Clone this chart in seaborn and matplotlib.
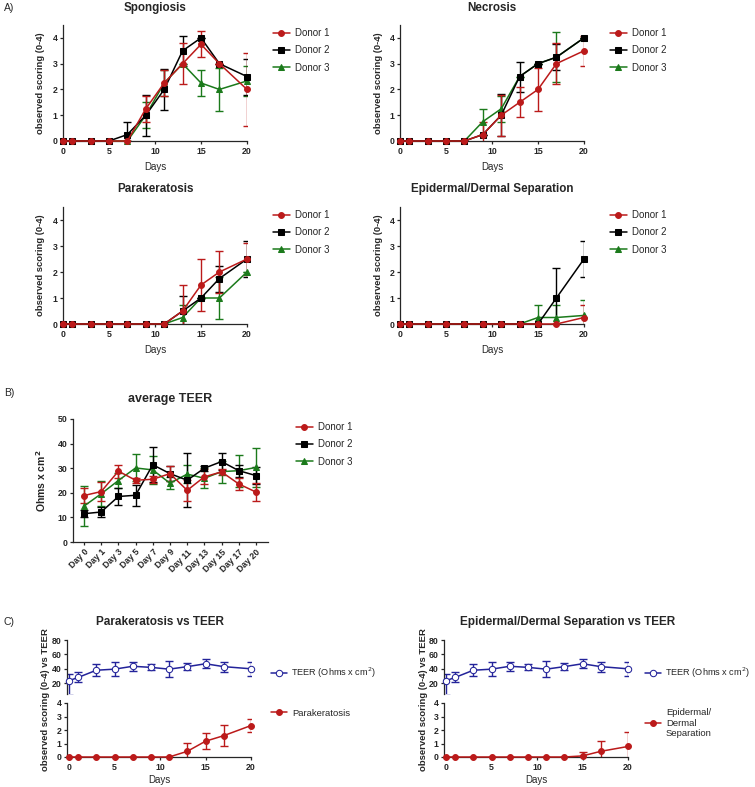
import numpy as np
import pandas as pd
import matplotlib
matplotlib.use("Agg")
import matplotlib.pyplot as plt
import seaborn as sns

days = [0, 1, 3, 5, 7, 9, 11, 13, 15, 17, 20]
day_labels = ["Day 0", "Day 1", "Day 3", "Day 5", "Day 7", "Day 9",
              "Day 11", "Day 13", "Day 15", "Day 17", "Day 20"]
donors = ["Donor 1", "Donor 2", "Donor 3"]

# Spongiosis
spong_mean = [[0, 0, 0, 0, 0, 1.25, 2.25, 3.0, 3.75, 3.0, 2.0],
              [0, 0, 0, 0, 0.25, 1.0, 2.0, 3.5, 4.0, 3.0, 2.5],
              [0, 0, 0, 0, 0, 1.0, 2.25, 3.0, 2.25, 2.0, 2.33]]
spong_sd = [[0, 0, 0, 0, 0, 0.5, 0.5, 0.8, 0.5, 0, 1.4],
            [0, 0, 0, 0, 0.5, 0.8, 0.8, 0.58, 0, 0, 0.7],
            [0, 0, 0, 0, 0, 0.5, 0.5, 0, 0.5, 0.82, 0.58]]

# Necrosis
necro_mean = [[0, 0, 0, 0, 0, 0.25, 1.0, 1.5, 2.0, 3.0, 3.5],
              [0, 0, 0, 0, 0, 0.25, 1.0, 2.5, 3.0, 3.25, 4.0],
              [0, 0, 0, 0, 0, 0.75, 1.25, 2.5, 3.0, 3.25, 4.0]]
necro_sd = [[0, 0, 0, 0, 0, 0.5, 0.8, 0.58, 0.82, 0.8, 0.58],
            [0, 0, 0, 0, 0, 0, 0.82, 0.58, 0, 0.5, 0],
            [0, 0, 0, 0, 0, 0.5, 0.5, 0, 0, 0.96, 0]]

# Parakeratosis
para_mean = [[0, 0, 0, 0, 0, 0, 0, 0.5, 1.5, 2.0, 2.5],
             [0, 0, 0, 0, 0, 0, 0, 0.5, 1.0, 1.75, 2.5],
             [0, 0, 0, 0, 0, 0, 0, 0.25, 1.0, 1.0, 2.0]]
para_sd = [[0, 0, 0, 0, 0, 0, 0, 1.0, 1.0, 0.82, 0.6],
           [0, 0, 0, 0, 0, 0, 0, 0.58, 0, 0.5, 0.7],
           [0, 0, 0, 0, 0, 0, 0, 0.5, 0, 0.82, 0]]

# Epidermal/Dermal Separation
sep_mean = [[0, 0, 0, 0, 0, 0, 0, 0, 0, 0, 0.25],
            [0, 0, 0, 0, 0, 0, 0, 0, 0, 1.0, 2.5],
            [0, 0, 0, 0, 0, 0, 0, 0, 0.25, 0.25, 0.33]]
sep_sd = [[0, 0, 0, 0, 0, 0, 0, 0, 0, 0, 0.5],
          [0, 0, 0, 0, 0, 0, 0, 0, 0, 1.15, 0.7],
          [0, 0, 0, 0, 0, 0, 0, 0, 0.5, 0.5, 0.58]]

# average TEER per donor (Ohms x cm2)
teer_mean = [[18.9, 20.5, 28.8, 25.1, 25.5, 27.8, 21.0, 26.5, 28.5, 23.6, 20.3],
             [11.5, 12.2, 18.5, 19.0, 31.4, 27.8, 25.1, 30.0, 32.7, 29.0, 27.0],
             [14.6, 19.6, 25.0, 30.1, 29.3, 23.9, 27.6, 25.9, 28.6, 29.0, 30.3]]
teer_sd = [[3.0, 3.8, 2.7, 1.0, 1.5, 3.0, 4.2, 3.0, 1.2, 2.3, 3.5],
           [1.5, 2.0, 3.3, 4.2, 7.2, 3.0, 11.0, 1.0, 3.5, 2.5, 3.5],
           [8.0, 5.0, 3.0, 5.5, 5.8, 2.5, 3.5, 4.0, 4.5, 6.5, 7.8]]

# TEER across donors and combined scores for panel C
teer_all = [23.5, 28.0, 38.0, 39.5, 43.5, 42.0, 39.5, 43.0, 47.0, 43.0, 40.0]
teer_all_lo = [20.0, 7.0, 8.0, 10.0, 6.0, 4.0, 11.0, 5.0, 6.0, 7.0, 10.0]
teer_all_hi = [9.5, 7.0, 8.0, 10.0, 6.0, 4.0, 11.0, 5.0, 6.0, 7.0, 10.0]
para_all = [0, 0, 0, 0, 0, 0, 0, 0.42, 1.17, 1.58, 2.33]
para_all_sd = [0, 0, 0, 0, 0, 0, 0, 0.65, 0.58, 0.8, 0.5]
sep_all = [0, 0, 0, 0, 0, 0, 0, 0, 0.08, 0.42, 0.78]
sep_all_sd = [0, 0, 0, 0, 0, 0, 0, 0, 0.3, 0.8, 1.1]

colors = ["#bb1a1a", "#000000", "#1b7a1b"]
markers = ["o", "s", "^"]
blue = "#23239a"

sns.set_theme(style="ticks")
plt.rcParams["font.family"] = ["Liberation Sans", "DejaVu Sans"]
plt.rcParams["axes.linewidth"] = 0.9
plt.rcParams["xtick.major.width"] = 0.9
plt.rcParams["ytick.major.width"] = 0.9
plt.rcParams["xtick.major.size"] = 2.5
plt.rcParams["ytick.major.size"] = 2.5
plt.rcParams["xtick.major.pad"] = 1.5
plt.rcParams["ytick.major.pad"] = 1.5

W, H = 755, 787
fig = plt.figure(figsize=(W / 100, H / 100), dpi=100)


def px(l, t, r, b):
    return [l / W, 1 - b / H, (r - l) / W, (b - t) / H]


def style_ticks(ax, size=6.3):
    for lab in ax.get_xticklabels() + ax.get_yticklabels():
        lab.set_fontweight("bold")
        lab.set_fontsize(size)


def draw_series(ax, x, y, err, color, marker, label, ms=4.2, mfc=None):
    ax.errorbar(x, y, yerr=err, fmt="none", ecolor=color, elinewidth=1.0,
                capsize=3.2, capthick=1.0, zorder=2)
    sns.lineplot(x=x, y=y, ax=ax, color=color, marker=marker, markersize=ms,
                 markeredgecolor=color, markerfacecolor=mfc if mfc else color,
                 linewidth=1.1, label=label, clip_on=False, zorder=3, sort=False)


def score_panel(rect, title, title_xy, means, sds, leg_xy, ylab_x):
    ax = fig.add_axes(px(*rect))
    for i in [2, 1, 0]:
        draw_series(ax, days, means[i], sds[i], colors[i], markers[i], donors[i])
    ax.set_xlim(0, 20)
    ax.set_ylim(0, 4.5)
    ax.set_xticks([0, 5, 10, 15, 20])
    ax.set_yticks([0, 1, 2, 3, 4])
    sns.despine(ax=ax)
    style_ticks(ax)
    ax.set_xlabel("Days", fontsize=7)
    ax.xaxis.set_label_coords(0.5, -0.18)
    ax.set_ylabel("observed scoring (0-4)", fontsize=6.8, fontweight="bold")
    ax.yaxis.set_label_coords(ylab_x, 0.5)
    h, l = ax.get_legend_handles_labels()
    order = [l.index(d) for d in donors]
    ax.legend([h[k] for k in order], donors, loc="upper left", frameon=False,
              bbox_to_anchor=(leg_xy[0] / W, 1 - leg_xy[1] / H),
              bbox_transform=fig.transFigure, fontsize=7, borderpad=0,
              borderaxespad=0, handlelength=1.7, labelspacing=0.75, handletextpad=0.6)
    fig.text(title_xy[0] / W, 1 - title_xy[1] / H, title, ha="center", va="center",
             fontsize=8.4, fontweight="bold")
    return ax


score_panel((63, 25, 247, 141), "Spongiosis", (155, 8), spong_mean, spong_sd, (273, 28), -0.098)
score_panel((400, 25, 584, 141), "Necrosis", (492, 8), necro_mean, necro_sd, (610, 28), -0.092)
score_panel((63, 207, 247, 324), "Parakeratosis", (155, 189), para_mean, para_sd, (273, 210), -0.098)
score_panel((400, 207, 584, 324), "Epidermal/Dermal Separation", (492, 189), sep_mean, sep_sd,
            (610, 210), -0.092)

# Panel B
axb = fig.add_axes(px(73, 419, 268, 542))
for i in [2, 1, 0]:
    draw_series(axb, day_labels, teer_mean[i], teer_sd[i], colors[i], markers[i], donors[i])
axb.set_xlim(-0.64, 10.7)
axb.set_ylim(0, 50)
axb.set_yticks([0, 10, 20, 30, 40, 50])
sns.despine(ax=axb)
style_ticks(axb, 6.3)
for lab in axb.get_xticklabels():
    lab.set_rotation(45)
    lab.set_ha("right")
    lab.set_rotation_mode("anchor")
axb.set_xlabel("")
axb.set_ylabel("Ohms x cm$^\\mathbf{2}$", fontsize=7.5, fontweight="bold")
axb.yaxis.set_label_coords(-0.128, 0.5)
h, l = axb.get_legend_handles_labels()
order = [l.index(d) for d in donors]
axb.legend([h[k] for k in order], donors, loc="upper left", frameon=False,
           bbox_to_anchor=(296 / W, 1 - 422 / H), bbox_transform=fig.transFigure,
           fontsize=7, borderpad=0, borderaxespad=0, handlelength=1.7,
           labelspacing=0.75, handletextpad=0.6)
fig.text(170 / W, 1 - 399 / H, "average TEER", ha="center", va="center",
         fontsize=9, fontweight="bold")


# Panel C
def combo_panel(left, title, title_x, score, score_sd, score_label, ylab_x, leg_x, score_leg_y):
    right = left + 184
    up = fig.add_axes(px(left, 640, right, 694))
    draw_series(up, days, teer_all, [teer_all_lo, teer_all_hi], blue, "o",
                "TEER (Ohms x cm$^2$)", ms=4.6, mfc="white")
    up.set_xlim(-0.22, 20)
    up.set_ylim(5, 80)
    up.set_yticks([20, 40, 60, 80])
    up.set_xticks([])
    sns.despine(ax=up, bottom=True)
    style_ticks(up)
    up.set_xlabel("")
    up.legend(loc="center left", frameon=False,
              bbox_to_anchor=(leg_x / W, 1 - 673 / H), bbox_transform=fig.transFigure,
              fontsize=6.6, borderpad=0, borderaxespad=0, handlelength=1.7,
              handletextpad=0.5)

    lo = fig.add_axes(px(left, 703, right, 757))
    draw_series(lo, days, score, score_sd, colors[0], "o", score_label)
    lo.set_xlim(-0.22, 20)
    lo.set_ylim(0, 4)
    lo.set_xticks([0, 5, 10, 15, 20])
    lo.set_yticks([0, 1, 2, 3, 4])
    sns.despine(ax=lo)
    style_ticks(lo)
    lo.set_xlabel("Days", fontsize=7)
    lo.xaxis.set_label_coords(0.5, -0.33)
    lo.set_ylabel("")
    lo.legend(loc="center left", frameon=False,
              bbox_to_anchor=(leg_x / W, 1 - score_leg_y / H), bbox_transform=fig.transFigure,
              fontsize=6.8, borderpad=0, borderaxespad=0, handlelength=1.7,
              handletextpad=0.5)

    fig.text(ylab_x / W, 1 - 700 / H, "observed scoring (0-4) vs TEER", rotation=90,
             ha="center", va="center", fontsize=6.8, fontweight="bold")
    fig.text(title_x / W, 1 - 622 / H, title, ha="center", va="center",
             fontsize=8.5, fontweight="bold")


combo_panel(67, "Parakeratosis vs TEER", 160, para_all, para_all_sd, "Parakeratosis", 46, 271, 713)
combo_panel(444, "Epidermal/Dermal Separation vs TEER", 568, sep_all, sep_all_sd,
            "Epidermal/\nDermal\nSeparation", 423, 645, 723)

for txt, y in [("A)", 8), ("B)", 393), ("C)", 622)]:
    fig.text(4 / W, 1 - y / H, txt, ha="left", va="center", fontsize=7.5)

fig.savefig("out.png", dpi=100)
